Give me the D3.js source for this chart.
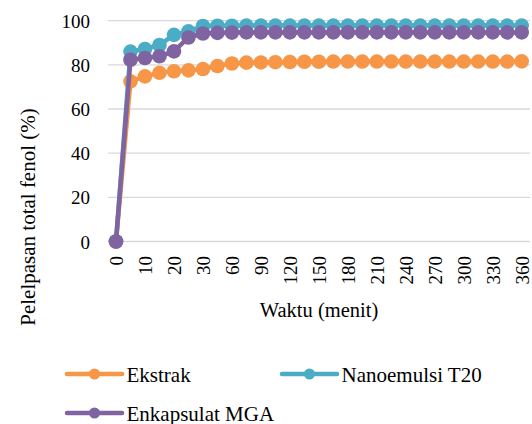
<!DOCTYPE html>
<html>
<head>
<meta charset="utf-8">
<script src="https://cdn.jsdelivr.net/npm/d3@7"></script>
<style>
  body { margin: 0; background: #fff; }
  svg text { font-family: 'Liberation Serif', 'Times New Roman', serif; fill: #000; }
</style>
</head>
<body>
<div id="chart"></div>
<script>
// data
var waktu = [0, 5, 10, 15, 20, 25, 30, 45, 60, 75, 90, 105, 120, 135, 150, 165, 180,
             195, 210, 225, 240, 255, 270, 285, 300, 315, 330, 345, 360];
var ekstrak = [0, 72.5, 74.8, 76.4, 77.1, 77.5, 78.1, 79.5, 80.6, 81, 81.1, 81.2, 81.3, 81.4, 81.4,
               81.5, 81.5, 81.5, 81.5, 81.5, 81.5, 81.5, 81.5, 81.5, 81.5, 81.5, 81.5, 81.5, 81.6];
var nanoemulsi = [0, 86, 87.2, 89, 93.6, 95.2, 97.6, 97.7, 97.7, 97.8, 97.8, 97.8, 97.8, 97.8, 97.8,
                  97.8, 97.8, 97.8, 97.8, 97.8, 97.8, 97.8, 97.8, 97.8, 97.8, 97.8, 97.8, 97.8, 97.8];
var enkapsulat = [0, 82.3, 83.1, 83.9, 86.1, 92.4, 94.2, 94.5, 94.6, 94.7, 94.7, 94.7, 94.7, 94.7, 94.7,
                  94.7, 94.7, 94.7, 94.7, 94.7, 94.7, 94.7, 94.7, 94.7, 94.7, 94.7, 94.7, 94.7, 94.7];
var yTicks = [0, 20, 40, 60, 80, 100];
var seriesNames = ['Ekstrak', 'Nanoemulsi T20', 'Enkapsulat MGA'];
var seriesColors = ['#F79646', '#4BACC6', '#8064A2'];

var width = 532, height = 424;
var serif = "'Liberation Serif', 'Times New Roman', serif";
var svg = d3.select('#chart').append('svg')
    .attr('width', width)
    .attr('height', height)
    .style('font-family', serif);

var x = d3.scalePoint()
    .domain(waktu)
    .range([116, 521.7]);
var y = d3.scaleLinear()
    .domain([0, 100])
    .range([241.5, 20.7]);

// gridlines
svg.append('g')
    .selectAll('line')
    .data(yTicks)
    .join('line')
    .attr('x1', 108).attr('x2', 530)
    .attr('y1', function(d) { return y(d); })
    .attr('y2', function(d) { return y(d); })
    .attr('stroke', '#d9d9d9')
    .attr('stroke-width', 1.3);

// y axis labels
var yAxis = svg.append('g')
    .attr('transform', 'translate(90,0)')
    .call(d3.axisLeft(y).tickValues(yTicks).tickSize(0).tickPadding(0));
yAxis.attr('font-family', null).attr('font-size', null);
yAxis.select('.domain').remove();
yAxis.selectAll('text')
    .style('font-size', '19px')
    .attr('dy', '0.35em');

// x axis labels (every other category)
var xAxis = svg.append('g')
    .attr('transform', 'translate(0,256)')
    .call(d3.axisBottom(x).tickValues(waktu.filter(function(d, i) { return i % 2 === 0; }))
        .tickSize(0).tickPadding(0));
xAxis.attr('font-family', null).attr('font-size', null);
xAxis.select('.domain').remove();
xAxis.selectAll('text')
    .style('font-size', '19px')
    .attr('text-anchor', 'end')
    .attr('transform', 'rotate(-90)')
    .attr('x', 0)
    .attr('y', 0)
    .attr('dy', '0.35em');

// axis titles
svg.append('text')
    .attr('x', 319).attr('y', 317)
    .attr('text-anchor', 'middle')
    .style('font-size', '20.5px')
    .text('Waktu (menit)');
svg.append('text')
    .attr('transform', 'translate(35,217) rotate(-90)')
    .attr('text-anchor', 'middle')
    .style('font-size', '21px')
    .text('Pelelpasan total fenol (%)');

// series
var allSeries = [ekstrak, nanoemulsi, enkapsulat];
var line = d3.line()
    .x(function(d, i) { return x(waktu[i]); })
    .y(function(d) { return y(d); });

allSeries.forEach(function(values, s) {
    var g = svg.append('g');
    g.append('path')
        .datum(values)
        .attr('fill', 'none')
        .attr('stroke', seriesColors[s])
        .attr('stroke-width', 4.5)
        .attr('stroke-linejoin', 'round')
        .attr('d', line);
    g.selectAll('circle')
        .data(values)
        .join('circle')
        .attr('cx', function(d, i) { return x(waktu[i]); })
        .attr('cy', function(d) { return y(d); })
        .attr('r', 7.3)
        .attr('fill', seriesColors[s]);
});

// legend
var legendPos = [[67, 374], [282, 374], [67, 413]];
seriesNames.forEach(function(name, s) {
    var lg = svg.append('g')
        .attr('transform', 'translate(' + legendPos[s][0] + ',' + legendPos[s][1] + ')');
    lg.append('line')
        .attr('x1', 0).attr('x2', 55)
        .attr('stroke', seriesColors[s])
        .attr('stroke-width', 4.5)
        .attr('stroke-linecap', 'round');
    lg.append('circle')
        .attr('cx', 27.5)
        .attr('r', 5.5)
        .attr('fill', seriesColors[s]);
    lg.append('text')
        .attr('x', 59.5).attr('y', 7.5)
        .style('font-size', '21px')
        .text(name);
});
</script>
</body>
</html>
